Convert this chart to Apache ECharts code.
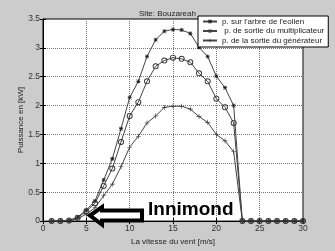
<!DOCTYPE html>
<html>
<head>
<meta charset="utf-8">
<title>Site: Bouzareah</title>
<script src="https://cdn.jsdelivr.net/npm/echarts@6/dist/echarts.min.js"></script>
<style>
  html, body { margin: 0; padding: 0; background: #cccccc; }
  #main { width: 335px; height: 251px; }
</style>
</head>
<body>
<div id="main"></div>
<script>
// vitesse du vent [m/s]
var vitesse = [1, 2, 3, 4, 5, 6, 7, 8, 9, 10, 11, 12, 13, 14, 15,
               16, 17, 18, 19, 20, 21, 22, 23, 24, 25, 26, 27, 28, 29, 30];
// puissance sur l'arbre de l'eolien [kW]
var pArbre = [0, 0, 0.01, 0.07, 0.19, 0.35, 0.71, 1.08, 1.60, 2.14, 2.42, 2.85, 3.14, 3.29, 3.32,
              3.31, 3.25, 3.01, 2.85, 2.51, 2.31, 2.00, 0, 0, 0, 0, 0, 0, 0, 0];
// puissance de sortie du multiplicateur [kW]
var pMulti = [0, 0, 0.01, 0.06, 0.17, 0.31, 0.61, 0.91, 1.37, 1.82, 2.06, 2.42, 2.68, 2.78, 2.83,
              2.81, 2.75, 2.56, 2.42, 2.12, 1.97, 1.70, 0, 0, 0, 0, 0, 0, 0, 0];
// puissance de la sortie du generateur [kW]
var pGene = [0, 0, 0, 0.04, 0.12, 0.23, 0.44, 0.64, 0.94, 1.28, 1.47, 1.70, 1.82, 1.97, 1.99,
             1.99, 1.94, 1.81, 1.71, 1.50, 1.39, 1.20, 0, 0, 0, 0, 0, 0, 0, 0];

var noms = ["p. sur l'arbre de l'eolien", ' p. de sortie du multiplicateur', 'p. de la sortie du générateur'];

function paires(ys) {
    return vitesse.map(function (v, i) { return [v, ys[i]]; });
}

// petits symboles façon matlab
var asterisque = 'path://M4,0H6V4H10V6H6V10H4V6H0V4H4Z M1,0L5,4L9,0L10,1L6,5L10,9L9,10L5,6L1,10L0,9L4,5L0,1Z';
var plus = 'path://M4.4,0H5.6V4.4H10V5.6H5.6V10H4.4V5.6H0V4.4H4.4Z';
var anneau = 'path://M5,0A5,5 0 1,1 5,10A5,5 0 1,1 5,0Z M5,1.5A3.5,3.5 0 1,0 5,8.5A3.5,3.5 0 1,0 5,1.5Z';

var police = 'Liberation Sans, Arial, sans-serif';
var ligne = '#444';

var myChart = echarts.init(document.getElementById('main'));

option = {
    backgroundColor: '#cccccc',
    animation: false,
    textStyle: { fontFamily: police },
    title: {
        text: 'Site: Bouzareah',
        left: 'center',
        top: 5,
        textStyle: { fontSize: 8, fontWeight: 'normal', color: '#222', fontFamily: police }
    },
    legend: {
        data: noms,
        orient: 'vertical',
        left: 198,
        top: 16,
        width: 130,
        padding: [1, 4, 2, 4],
        itemGap: 0.5,
        itemWidth: 14,
        itemHeight: 5,
        backgroundColor: '#fff',
        borderColor: '#000',
        borderWidth: 1,
        borderRadius: 0,
        textStyle: { fontSize: 8, color: '#222', lineHeight: 9, fontFamily: police }
    },
    grid: {
        left: 43,
        right: 32,
        top: 19,
        bottom: 28,
        show: true,
        backgroundColor: '#fff',
        borderColor: '#000',
        borderWidth: 1
    },
    xAxis: [
        {
            type: 'value',
            min: 0,
            max: 30,
            interval: 5,
            name: 'La vitesse du vent [m/s]',
            nameLocation: 'middle',
            nameGap: 14,
            nameTextStyle: { fontSize: 8, color: '#222', fontFamily: police },
            axisLine: { lineStyle: { color: '#000' } },
            axisTick: { inside: true, length: 3, lineStyle: { color: '#000' } },
            axisLabel: { fontSize: 8.5, color: '#333', margin: 3 },
            splitLine: { show: true, lineStyle: { type: 'dotted', color: '#777' } }
        },
        {
            type: 'value',
            position: 'top',
            min: 0,
            max: 30,
            interval: 5,
            axisLine: { lineStyle: { color: '#000' } },
            axisTick: { inside: true, length: 3, lineStyle: { color: '#000' } },
            axisLabel: { show: false },
            splitLine: { show: false }
        }
    ],
    yAxis: [
        {
            type: 'value',
            min: 0,
            max: 3.5,
            interval: 0.5,
            name: 'Puissance en [kW]',
            nameLocation: 'middle',
            nameGap: 18,
            nameMoveOverlap: false,
            nameTextStyle: { fontSize: 8, color: '#222', fontFamily: police },
            axisLine: { show: true, lineStyle: { color: '#000' } },
            axisTick: { show: true, inside: true, length: 3, lineStyle: { color: '#000' } },
            axisLabel: { fontSize: 8.5, color: '#333', margin: 3 },
            splitLine: { show: true, lineStyle: { type: 'dotted', color: '#777' } }
        },
        {
            type: 'value',
            position: 'right',
            min: 0,
            max: 3.5,
            interval: 0.5,
            axisLine: { show: true, lineStyle: { color: '#000' } },
            axisTick: { show: true, inside: true, length: 3, lineStyle: { color: '#000' } },
            axisLabel: { show: false },
            splitLine: { show: false }
        }
    ],
    series: [
        {
            name: noms[0],
            type: 'line',
            data: paires(pArbre),
            symbol: asterisque,
            symbolSize: 4,
            showAllSymbol: true,
            lineStyle: { width: 1, color: ligne },
            itemStyle: { color: '#222', borderWidth: 0 }
        },
        {
            name: noms[1],
            type: 'line',
            data: paires(pMulti),
            symbol: anneau,
            symbolSize: 6,
            showAllSymbol: true,
            lineStyle: { width: 1, color: ligne },
            itemStyle: { color: '#333', borderWidth: 0 }
        },
        {
            name: noms[2],
            type: 'line',
            data: paires(pGene),
            symbol: plus,
            symbolSize: 5,
            showAllSymbol: true,
            lineStyle: { width: 1, color: ligne },
            itemStyle: { color: '#333', borderWidth: 0 }
        }
    ],
    graphic: [
        {
            type: 'polygon',
            shape: {
                points: [[90, 215.5], [102, 207], [102, 210.5], [142, 210.5],
                         [142, 220.5], [102, 220.5], [102, 224.5]]
            },
            style: { fill: '#fff', stroke: '#000', lineWidth: 4, lineJoin: 'miter' },
            z: 100
        },
        {
            type: 'text',
            style: {
                text: 'Innimond',
                x: 148,
                y: 209.5,
                verticalAlign: 'middle',
                fontSize: 19,
                fontWeight: 'bold',
                fontFamily: police,
                fill: '#000'
            },
            z: 100
        }
    ]
};

myChart.setOption(option);
</script>
</body>
</html>
